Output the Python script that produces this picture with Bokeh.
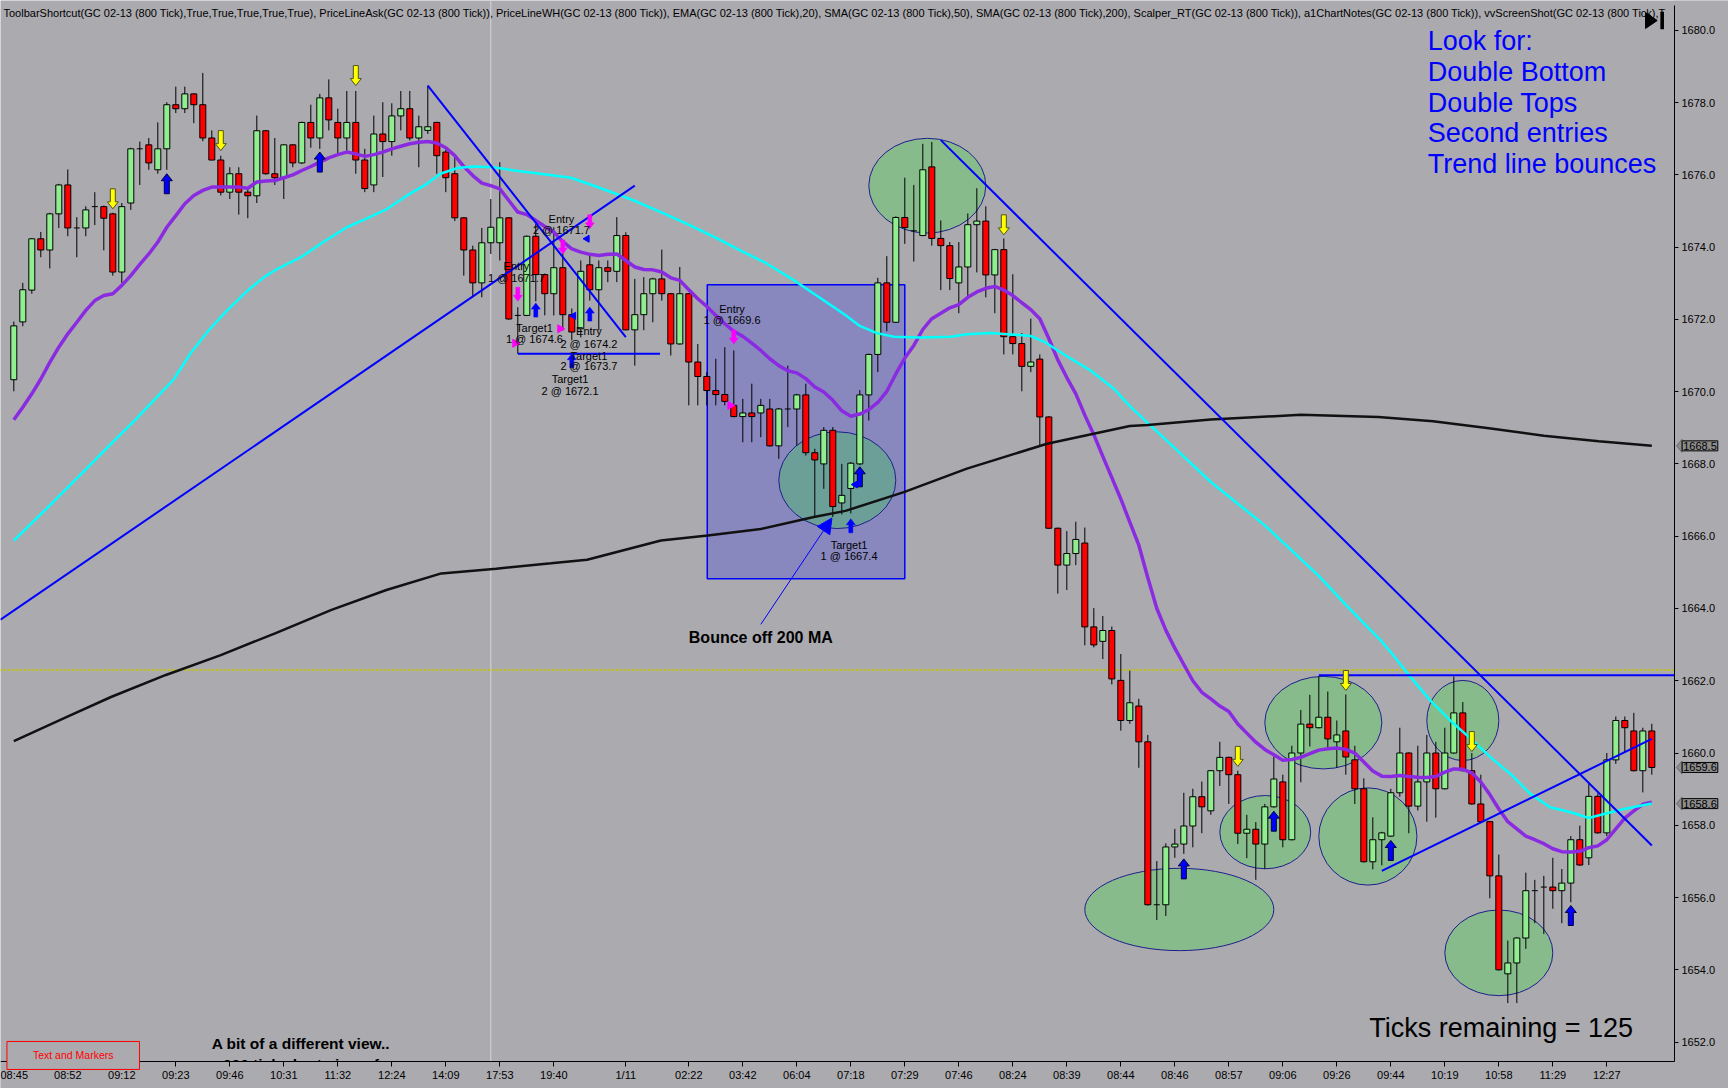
import numpy as np
from bokeh.plotting import figure
from bokeh.models import Range1d, FixedTicker, Label, Arrow, NormalHead, PolyAnnotation
from bokeh.core.properties import value
from bokeh.embed import file_html
from bokeh.resources import INLINE

FONT = "Liberation Sans"
BG = "#ABAAAF"

# ---- GC 02-13 (800 Tick) candles ----
opens = [1670.33, 1671.93, 1672.81, 1674.23, 1673.92, 1674.92, 1675.72, 1674.53, 1674.53, 1675.12,
         1675.12, 1674.92, 1673.31, 1675.22, 1676.72, 1676.83, 1676.14, 1676.72, 1677.94, 1677.83,
         1678.24, 1677.94, 1677.02, 1676.41, 1675.52, 1676.03, 1675.52, 1675.42, 1677.22, 1676.03,
         1675.92, 1676.83, 1676.33, 1677.45, 1677.02, 1678.13, 1677.45, 1677.02, 1677.45, 1676.41,
         1675.72, 1677.13, 1676.92, 1677.63, 1677.83, 1677.02, 1677.23, 1677.45, 1676.63, 1676.03,
         1674.81, 1673.92, 1673.01, 1674.12, 1674.12, 1674.81, 1672.11, 1672.11, 1674.30, 1673.24,
         1672.71, 1673.43, 1672.13, 1671.74, 1673.51, 1672.82, 1673.43, 1673.33, 1674.32, 1671.71,
         1672.13, 1672.71, 1673.12, 1672.71, 1671.32, 1672.71, 1670.82, 1670.42, 1670.03, 1669.92,
         1669.62, 1669.31, 1669.41, 1669.41, 1669.52, 1668.50, 1669.52, 1669.52, 1669.91, 1668.31,
         1668.00, 1668.93, 1666.92, 1667.32, 1668.00, 1669.91, 1671.03, 1673.01, 1671.92, 1674.82,
         1674.45, 1674.32, 1676.22, 1674.24, 1674.04, 1673.01, 1673.45, 1674.62, 1674.72, 1673.23,
         1673.93, 1671.52, 1671.33, 1670.70, 1670.90, 1669.30, 1666.22, 1665.20, 1665.52, 1665.81,
         1663.49, 1663.09, 1663.39, 1662.01, 1660.90, 1661.30, 1660.31, 1655.80, 1655.80, 1657.40,
         1657.48, 1657.98, 1658.79, 1658.40, 1659.51, 1659.88, 1659.40, 1657.78, 1657.89, 1657.48,
         1658.51, 1659.20, 1657.60, 1660.00, 1660.80, 1660.70, 1660.99, 1660.31, 1660.61, 1659.81,
         1659.01, 1656.99, 1657.60, 1657.70, 1658.90, 1660.00, 1658.53, 1659.20, 1660.00, 1659.01,
         1660.00, 1661.11, 1659.51, 1658.59, 1658.10, 1656.60, 1653.89, 1654.19, 1654.88, 1656.19,
         1656.29, 1656.29, 1656.19, 1656.40, 1657.60, 1657.10, 1658.80, 1657.79, 1659.81, 1660.90,
         1660.61, 1659.51, 1660.61]
highs = [1671.94, 1673.01, 1674.25, 1674.42, 1674.95, 1675.75, 1676.15, 1674.83, 1675.13, 1675.52,
         1675.15, 1674.95, 1675.22, 1676.75, 1676.92, 1677.02, 1677.45, 1678.01, 1678.44, 1678.44,
         1678.26, 1678.82, 1677.23, 1676.53, 1676.21, 1676.21, 1675.66, 1677.64, 1677.24, 1677.02,
         1676.85, 1676.85, 1677.47, 1677.94, 1678.24, 1678.64, 1677.83, 1678.32, 1678.32, 1676.72,
         1677.64, 1678.01, 1677.98, 1678.32, 1678.32, 1677.64, 1678.47, 1677.47, 1676.75, 1676.53,
         1674.83, 1674.04, 1674.53, 1675.33, 1676.35, 1674.83, 1672.34, 1674.32, 1674.64, 1673.27,
         1674.55, 1674.00, 1672.30, 1673.63, 1673.80, 1673.63, 1673.63, 1674.83, 1674.41, 1673.12,
         1673.17, 1673.15, 1673.93, 1672.73, 1673.45, 1672.73, 1671.32, 1670.54, 1670.91, 1671.23,
         1671.14, 1669.80, 1670.22, 1669.80, 1669.80, 1669.55, 1670.72, 1669.94, 1670.22, 1668.42,
         1669.02, 1669.02, 1668.00, 1668.05, 1670.04, 1671.05, 1673.15, 1673.75, 1674.85, 1675.92,
         1675.72, 1676.86, 1676.91, 1674.74, 1674.14, 1674.14, 1674.93, 1675.63, 1675.13, 1673.95,
         1674.24, 1673.25, 1671.62, 1672.02, 1671.03, 1669.32, 1666.24, 1666.14, 1666.40, 1666.24,
         1664.01, 1663.79, 1663.50, 1662.74, 1662.28, 1661.50, 1660.50, 1657.01, 1657.50, 1657.90,
         1658.90, 1659.01, 1659.21, 1659.53, 1660.31, 1659.90, 1659.51, 1658.29, 1658.09, 1658.59,
         1659.90, 1659.40, 1660.20, 1661.19, 1661.61, 1662.12, 1661.70, 1660.90, 1661.62, 1660.20,
         1659.30, 1658.22, 1657.82, 1659.01, 1660.70, 1660.02, 1660.20, 1660.50, 1660.31, 1660.70,
         1662.12, 1661.41, 1660.00, 1659.40, 1658.12, 1657.19, 1654.81, 1654.90, 1656.69, 1656.49,
         1656.60, 1657.10, 1656.79, 1657.70, 1657.99, 1659.19, 1658.88, 1660.00, 1661.01, 1661.01,
         1661.11, 1660.70, 1660.81]
lows = [1670.01, 1671.81, 1672.71, 1673.72, 1673.41, 1674.53, 1674.30, 1673.72, 1674.30, 1674.61,
        1673.91, 1673.21, 1673.01, 1675.03, 1675.72, 1676.14, 1676.03, 1676.14, 1677.71, 1677.71,
        1677.43, 1676.93, 1676.40, 1675.43, 1675.33, 1674.90, 1674.80, 1675.22, 1676.00, 1675.72,
        1675.33, 1676.21, 1676.30, 1676.75, 1676.72, 1677.23, 1676.56, 1676.67, 1676.03, 1675.52,
        1675.52, 1675.94, 1676.53, 1677.23, 1676.95, 1676.21, 1677.13, 1676.03, 1675.52, 1674.72,
        1673.21, 1672.61, 1672.61, 1673.81, 1673.63, 1671.99, 1671.05, 1672.09, 1672.50, 1672.11,
        1672.11, 1671.69, 1671.42, 1671.50, 1672.52, 1671.70, 1673.03, 1673.03, 1671.70, 1670.72,
        1671.70, 1671.92, 1672.52, 1671.00, 1671.30, 1669.62, 1669.62, 1669.62, 1669.62, 1669.62,
        1669.29, 1668.60, 1668.60, 1668.74, 1668.48, 1668.14, 1669.02, 1668.51, 1668.23, 1666.53,
        1667.31, 1666.53, 1666.60, 1666.63, 1667.97, 1669.20, 1670.54, 1671.67, 1671.90, 1674.09,
        1673.60, 1674.30, 1674.04, 1672.81, 1672.81, 1672.17, 1672.61, 1673.30, 1672.61, 1672.17,
        1671.03, 1671.03, 1670.01, 1670.54, 1668.51, 1666.20, 1664.41, 1664.51, 1665.20, 1662.98,
        1662.92, 1662.60, 1661.90, 1660.62, 1660.81, 1659.59, 1655.78, 1655.38, 1655.49, 1657.10,
        1657.21, 1657.39, 1657.78, 1658.29, 1659.09, 1658.59, 1657.48, 1657.09, 1656.49, 1656.79,
        1658.49, 1657.39, 1657.58, 1659.19, 1660.18, 1660.68, 1660.11, 1659.59, 1659.40, 1658.59,
        1656.97, 1656.78, 1656.89, 1657.68, 1658.79, 1657.78, 1658.41, 1658.10, 1658.21, 1658.99,
        1659.98, 1659.49, 1658.57, 1658.08, 1655.98, 1653.98, 1653.08, 1653.08, 1654.58, 1655.29,
        1654.99, 1655.69, 1655.29, 1655.87, 1656.88, 1656.90, 1657.77, 1657.70, 1659.70, 1660.00,
        1659.49, 1658.91, 1659.40]
closes = [1671.82, 1672.82, 1674.23, 1673.92, 1674.92, 1675.72, 1674.53, 1674.53, 1675.03, 1675.12,
          1674.80, 1673.31, 1675.12, 1676.72, 1676.72, 1676.33, 1676.72, 1677.94, 1677.83, 1678.24,
          1677.94, 1677.02, 1676.41, 1675.52, 1676.03, 1675.52, 1675.42, 1677.22, 1676.03, 1675.92,
          1676.83, 1676.33, 1677.45, 1677.02, 1678.13, 1677.52, 1677.02, 1677.45, 1676.41, 1675.62,
          1677.13, 1676.92, 1677.63, 1677.83, 1677.02, 1677.33, 1677.33, 1676.53, 1675.92, 1674.81,
          1673.92, 1673.01, 1674.12, 1674.55, 1674.81, 1672.01, 1672.11, 1674.30, 1673.24, 1672.71,
          1673.43, 1672.13, 1671.65, 1673.33, 1672.82, 1673.43, 1673.33, 1674.32, 1671.71, 1672.13,
          1672.71, 1673.12, 1672.71, 1671.32, 1672.71, 1670.82, 1670.42, 1670.03, 1669.92, 1669.73,
          1669.31, 1669.41, 1669.31, 1669.62, 1668.50, 1669.52, 1669.52, 1669.91, 1668.31, 1668.11,
          1668.93, 1666.82, 1667.13, 1668.02, 1669.91, 1671.03, 1673.01, 1671.92, 1674.82, 1674.54,
          1674.45, 1676.14, 1674.24, 1674.04, 1673.13, 1673.45, 1674.62, 1674.72, 1673.23, 1673.93,
          1671.52, 1671.33, 1670.70, 1670.82, 1669.30, 1666.22, 1665.20, 1665.52, 1665.91, 1663.49,
          1662.99, 1663.39, 1662.05, 1660.90, 1661.39, 1660.31, 1655.80, 1655.80, 1657.40, 1657.48,
          1657.98, 1658.79, 1658.51, 1659.51, 1659.88, 1659.40, 1657.78, 1657.89, 1657.48, 1658.51,
          1659.28, 1657.60, 1660.00, 1660.80, 1660.70, 1660.99, 1660.39, 1660.50, 1659.89, 1659.01,
          1656.99, 1657.60, 1657.79, 1658.90, 1660.00, 1658.53, 1659.20, 1660.00, 1659.01, 1660.00,
          1661.11, 1659.51, 1658.59, 1658.10, 1656.60, 1654.00, 1654.19, 1654.88, 1656.19, 1656.19,
          1656.29, 1656.19, 1656.40, 1657.60, 1656.90, 1658.80, 1657.79, 1659.81, 1660.90, 1660.70,
          1659.51, 1660.61, 1659.60]

# ---- time axis ----
time_tick_bars = [0, 6, 12, 18, 24, 30, 36, 42, 48, 54, 60, 68, 75, 81, 87, 93, 99, 105, 111,
                  117, 123, 129, 135, 141, 147, 153, 159, 165, 171, 177]
time_tick_labels = ["08:45", "08:52", "09:12", "09:23", "09:46", "10:31", "11:32", "12:24", "14:09",
                    "17:53", "19:40", "1/11", "02:22", "03:42", "06:04", "07:18", "07:29", "07:46",
                    "08:24", "08:39", "08:44", "08:46", "08:57", "09:06", "09:26", "09:44", "10:19",
                    "10:58", "11:29", "12:27"]
price_ticks = [1652, 1654, 1656, 1658, 1660, 1662, 1664, 1666, 1668, 1670, 1672, 1674, 1676, 1678, 1680]
session_break_bar = 53

# ---- indicators ----
ema20 = [1669.22, 1669.57, 1669.94, 1670.35, 1670.81, 1671.23, 1671.60, 1671.92, 1672.25, 1672.52,
         1672.66, 1672.71, 1672.94, 1673.21, 1673.52, 1673.81, 1674.14, 1674.55, 1674.87, 1675.20,
         1675.43, 1675.57, 1675.66, 1675.66, 1675.66, 1675.66, 1675.63, 1675.80, 1675.83, 1675.84,
         1675.92, 1676.00, 1676.12, 1676.23, 1676.35, 1676.47, 1676.56, 1676.63, 1676.58, 1676.51,
         1676.56, 1676.63, 1676.72, 1676.79, 1676.86, 1676.90, 1676.92, 1676.88, 1676.75, 1676.53,
         1676.23, 1675.98, 1675.77, 1675.70, 1675.61, 1675.29, 1674.97, 1674.90, 1674.74, 1674.57,
         1674.41, 1674.15, 1673.95, 1673.86, 1673.80, 1673.77, 1673.80, 1673.81, 1673.63, 1673.45,
         1673.38, 1673.37, 1673.31, 1673.15, 1673.08, 1672.82, 1672.57, 1672.36, 1672.11, 1671.88,
         1671.67, 1671.53, 1671.34, 1671.14, 1670.91, 1670.72, 1670.58, 1670.52, 1670.36, 1670.13,
         1669.99, 1669.76, 1669.47, 1669.32, 1669.38, 1669.50, 1669.70, 1670.01, 1670.49, 1670.93,
         1671.28, 1671.72, 1672.02, 1672.17, 1672.32, 1672.41, 1672.61, 1672.76, 1672.86, 1672.91,
         1672.81, 1672.66, 1672.46, 1672.27, 1672.02, 1671.47, 1670.88, 1670.39, 1669.94, 1669.35,
         1668.81, 1668.21, 1667.62, 1667.03, 1666.39, 1665.75, 1664.85, 1664.00, 1663.40, 1662.90,
         1662.45, 1662.00, 1661.68, 1661.50, 1661.30, 1661.15, 1660.80, 1660.55, 1660.30, 1660.10,
         1659.95, 1659.80, 1659.82, 1659.88, 1659.98, 1660.08, 1660.12, 1660.14, 1660.10, 1660.00,
         1659.75, 1659.50, 1659.36, 1659.35, 1659.38, 1659.35, 1659.33, 1659.32, 1659.35, 1659.47,
         1659.56, 1659.55, 1659.45, 1659.20, 1658.85, 1658.45, 1658.10, 1657.90, 1657.70, 1657.60,
         1657.49, 1657.35, 1657.27, 1657.26, 1657.28, 1657.38, 1657.43, 1657.60, 1657.90, 1658.20,
         1658.40, 1658.58, 1658.64]

sma50_x = [0, 4, 8, 11, 13.5, 15.9, 17.8, 19.6, 21.5, 23.7, 26, 27.8, 29.3, 31.9, 34.4, 37, 39.3,
           41.5, 43.7, 45.9, 47.4, 49.3, 51.1, 53.3, 55.6, 57.8, 60, 61.9, 65, 68.9, 71.9, 74.8,
           77.8, 80.7, 83.7, 86.7, 88.9, 91.1, 92.5, 94, 95.9, 97.8, 100.7, 104.1, 105.9, 108.5,
           110.4, 113, 114.5, 117, 119.6, 122.2, 124, 127, 130, 133, 136, 139, 142, 145, 148,
           151.9, 153, 155.2, 157.4, 159.6, 161.9, 164.1, 166.3, 168.5, 170.7, 173, 175, 176.7,
           178.9, 182]
sma50_y = [1665.88, 1666.85, 1667.85, 1668.60, 1669.22, 1669.85, 1670.35, 1671.05, 1671.65, 1672.25,
           1672.80, 1673.17, 1673.40, 1673.72, 1674.14, 1674.55, 1674.80, 1675.06, 1675.43, 1675.75,
           1676.03, 1676.19, 1676.23, 1676.21, 1676.12, 1676.05, 1675.98, 1675.92, 1675.65, 1675.29,
           1674.97, 1674.64, 1674.28, 1673.91, 1673.54, 1673.08, 1672.71, 1672.34, 1672.10, 1671.82,
           1671.62, 1671.52, 1671.50, 1671.52, 1671.59, 1671.62, 1671.59, 1671.54, 1671.38, 1670.98,
           1670.59, 1670.09, 1669.60, 1668.90, 1668.20, 1667.50, 1666.90, 1666.30, 1665.60, 1664.90,
           1664.10, 1663.11, 1662.79, 1662.10, 1661.45, 1660.90, 1660.39, 1659.88, 1659.42, 1658.87,
           1658.50, 1658.36, 1658.20, 1658.31, 1658.45, 1658.60]

sma200_x = [0, 5.9, 10.8, 16.9, 23, 29.1, 35.3, 41.4, 47.5, 53.6, 59.7, 63.7, 71.9, 77.1, 83, 88.9,
            92.4, 98.9, 105.9, 114.8, 124, 126, 133, 143, 151.6, 157.7, 163.9, 170, 176.1, 182]
sma200_y = [1660.33, 1661.00, 1661.55, 1662.16, 1662.71, 1663.32, 1663.96, 1664.51, 1664.97,
            1665.10, 1665.25, 1665.35, 1665.88, 1666.02, 1666.20, 1666.53, 1666.70, 1667.22,
            1667.87, 1668.56, 1669.05, 1669.08, 1669.23, 1669.36, 1669.30, 1669.18, 1668.99,
            1668.78, 1668.63, 1668.50]

# ---- chart notes: drawing objects ----
trend_lines = [((-1.48, 1663.69), (69.0, 1675.70)),
               ((46.0, 1678.47), (68.0, 1671.51)),
               ((56.0, 1671.05), (71.8, 1671.05)),
               ((103.0, 1676.96), (182.0, 1657.44)),
               ((152.0, 1656.74), (182.0, 1660.39)),
               ((145.0, 1662.15), (184.52, 1662.15))]
ask_line_price = 1662.3
box_left, box_right, box_bottom, box_top = 77.05, 99.0, 1664.82, 1672.96

ell_x = [101.5, 91.5, 129.5, 139.05, 145.5, 150.45, 161.0, 165.0]
ell_y = [1675.70, 1667.55, 1655.67, 1657.81, 1660.84, 1657.69, 1660.90, 1654.47]
ell_w = [13.0, 13.0, 21.0, 10.1, 13.0, 10.9, 8.0, 12.0]
ell_h = [2.62, 2.68, 2.28, 2.03, 2.56, 2.69, 2.22, 2.37]

# Scalper signal arrows: bar, tip price
sell_arrow_bars = [11, 23, 38, 110, 136, 148, 162]
sell_arrow_tips = [1675.06, 1676.67, 1678.47, 1674.34, 1659.63, 1661.73, 1660.04]
buy_arrow_bars = [17, 34, 94, 130, 140, 153, 173]
buy_arrow_tips = [1676.03, 1676.63, 1667.92, 1657.07, 1658.39, 1657.58, 1655.78]
exec_buy_bars = [58, 62, 64, 93]
exec_buy_tips = [1672.45, 1671.05, 1672.34, 1666.48]
exec_sell_bars = [56, 61, 64, 80]
exec_sell_tips = [1672.50, 1673.81, 1674.51, 1671.32]
fill_mark_x = [55.7, 60.7, 79.6]
fill_mark_y = [1671.34, 1671.74, 1669.62]
stop_mark_x = [63.7, 62.2, 93.5]
stop_mark_y = [1674.23, 1672.10, 1667.43]

trade_text = ["Entry", "2 @ 1671.7", "Entry", "1 @ 1671.7", "Target1", "1 @ 1674.6",
              "Entry", "2 @ 1674.2", "Target1", "2 @ 1673.7", "Target1", "2 @ 1672.1",
              "Entry", "1 @ 1669.6", "Target1", "1 @ 1667.4"]
trade_x = [60.85, 60.85, 55.85, 55.85, 57.85, 57.85, 63.9, 63.9, 63.9, 63.9, 61.8, 61.8,
           79.8, 79.8, 92.8, 92.8]
trade_y = [1674.78, 1674.46, 1673.49, 1673.14, 1671.76, 1671.45, 1671.67, 1671.32, 1671.0,
           1670.70, 1670.34, 1670.03, 1672.29, 1671.99, 1665.76, 1665.45]

look_for = ["Look for:", "Double Bottom", "Double Tops", "Second entries", "Trend line bounces"]
look_for_y = [1679.71, 1678.855, 1678.00, 1677.145, 1676.29]

header = ("ToolbarShortcut(GC 02-13 (800 Tick),True,True,True,True,True), PriceLineAsk(GC 02-13 (800 Tick)), "
          "PriceLineWH(GC 02-13 (800 Tick)), EMA(GC 02-13 (800 Tick),20), SMA(GC 02-13 (800 Tick),50), "
          "SMA(GC 02-13 (800 Tick),200), Scalper_RT(GC 02-13 (800 Tick)), a1ChartNotes(GC 02-13 (800 Tick)), "
          "vvScreenShot(GC 02-13 (800 Tick),T")

# ---- geometry: price panel is [X0, X1] x [Y0, Y1]; the canvas extends past it for the axes ----
W, H = 1728, 1088
PANEL_W, PANEL_H = 1674, 1056
PANEL_TOP = 5
X0, X1 = -1.478, 184.52
Y0, Y1 = 1651.463, 1680.686
px_x = (X1 - X0) / PANEL_W
px_y = (Y1 - Y0) / PANEL_H
XA, XB = X0, X0 + W * px_x
YB = Y1 + PANEL_TOP * px_y
YA = YB - H * px_y

p = figure(width=W, height=H, output_backend="svg", toolbar_location=None,
           x_range=Range1d(XA, XB), y_range=Range1d(YA, YB), y_axis_location="right",
           min_border_left=0, min_border_right=0, min_border_top=0, min_border_bottom=0)
p.background_fill_color = BG
p.border_fill_color = BG
p.outline_line_color = None
p.grid.visible = False

for ax in (p.xaxis[0], p.yaxis[0]):
    ax.axis_line_color = "black"
    ax.major_tick_line_color = "black"
    ax.minor_tick_line_color = None
    ax.major_tick_in = 0
    ax.major_label_text_font = FONT
    ax.major_label_text_font_size = "11px"
    ax.major_label_text_color = "black"

p.xaxis.fixed_location = Y0
p.xaxis.bounds = (X0, X1)
p.xaxis.ticker = FixedTicker(ticks=time_tick_bars)
p.xaxis.major_label_overrides = {b: t for b, t in zip(time_tick_bars, time_tick_labels)}
p.xaxis.major_tick_out = 5
p.xaxis.major_label_standoff = 2
p.yaxis.fixed_location = X1
p.yaxis.bounds = (Y0, Y1)
p.yaxis.ticker = FixedTicker(ticks=price_ticks)
p.yaxis.major_label_overrides = {v: f"{v:.1f}" for v in price_ticks}
p.yaxis.major_tick_out = 4
p.yaxis.major_label_standoff = 3

# chart-note shapes (behind price bars)
p.quad(left=[box_left], right=[box_right], bottom=[box_bottom], top=[box_top],
       fill_color="#0000FF", fill_alpha=0.2, line_color="#0000FF", line_width=1.5)
p.ellipse(x=ell_x, y=ell_y, width=ell_w, height=ell_h, fill_color="#00FF00", fill_alpha=0.2,
          line_color="#1E1E8C", line_width=1)

p.segment(x0=[session_break_bar], y0=[Y0], x1=[session_break_bar], y1=[YB],
          line_color="#D6D6D8", line_width=1)
p.line([X0, X1], [ask_line_price, ask_line_price], line_color="#C4C400", line_width=2, line_dash="2 2")

# candles
bars = np.arange(len(opens))
o = np.array(opens); c = np.array(closes)
p.segment(x0=bars, y0=highs, x1=bars, y1=lows, line_color="black", line_width=1)
body_top = np.maximum(o, c); body_bot = np.minimum(o, c)
is_doji = np.abs(c - o) < 0.03
colors = np.where(c > o, "#90EE90", "#FF0000")
nd = ~is_doji
p.vbar(x=bars[nd], top=body_top[nd], bottom=body_bot[nd], width=0.667,
       fill_color=list(colors[nd]), line_color="black", line_width=1)
p.segment(x0=bars[is_doji] - 0.333, y0=c[is_doji], x1=bars[is_doji] + 0.333, y1=c[is_doji],
          line_color="black", line_width=1)

# moving averages
p.line(bars, ema20, line_color="#8A2BE2", line_width=3.5)
p.line(sma50_x, sma50_y, line_color="#00FFFF", line_width=2.5)
p.line(sma200_x, sma200_y, line_color="#111111", line_width=2.5)

# trend lines
p.segment(x0=[a[0] for a, b in trend_lines], y0=[a[1] for a, b in trend_lines],
          x1=[b[0] for a, b in trend_lines], y1=[b[1] for a, b in trend_lines],
          line_color="#0000FF", line_width=2)


def arrow_shapes(xs, tips, direction, length_px, shaft_px, head_w_px, head_h_px):
    out_x, out_y = [], []
    for xc, tip in zip(xs, tips):
        base = tip - direction * length_px * px_y
        neck = tip - direction * head_h_px * px_y
        sw = shaft_px * px_x / 2
        hw = head_w_px * px_x / 2
        out_x.append([xc - sw, xc + sw, xc + sw, xc + hw, xc, xc - hw, xc - sw])
        out_y.append([base, base, neck, neck, tip, neck, neck])
    return out_x, out_y


ax_, ay_ = arrow_shapes(sell_arrow_bars, sell_arrow_tips, -1, 20, 5, 11, 7)
p.patches(ax_, ay_, fill_color="#FFFF00", line_color="#505020", line_width=1)
ax_, ay_ = arrow_shapes(buy_arrow_bars, buy_arrow_tips, 1, 20, 5, 11, 7)
p.patches(ax_, ay_, fill_color="#0000FF", line_color="#000040", line_width=1)
ax_, ay_ = arrow_shapes(exec_buy_bars, exec_buy_tips, 1, 14, 4, 9, 6)
p.patches(ax_, ay_, fill_color="#0000FF", line_color="#0000FF", line_width=0.5)
ax_, ay_ = arrow_shapes(exec_sell_bars, exec_sell_tips, -1, 14, 4, 9, 6)
p.patches(ax_, ay_, fill_color="#FF00FF", line_color="#FF00FF", line_width=0.5)
p.scatter(fill_mark_x, fill_mark_y, marker="triangle", angle=-np.pi / 2, size=8,
          fill_color="#FF00FF", line_color="#FF00FF")
p.scatter(stop_mark_x, stop_mark_y, marker="triangle", angle=np.pi / 2, size=7,
          fill_color="#0000FF", line_color="#0000FF")

# texts
p.text(x=trade_x, y=trade_y, text=trade_text, text_font=value(FONT), text_font_size="11px",
       text_align="center", text_baseline="middle", text_color="black")
p.text(x=[83.0], y=[1663.20], text=["Bounce off 200 MA"], text_font=value(FONT),
       text_font_size="16px", text_font_style="bold", text_align="center", text_baseline="middle")
p.add_layout(Arrow(x_start=83.0, y_start=1663.56, x_end=90.9, y_end=1666.5, line_color="#0000FF",
                   line_width=1, end=NormalHead(size=15, fill_color="#0000FF", line_color="#0000FF")))
p.text(x=[31.9, 31.9], y=[1651.95, 1651.37], text=["A bit of a different view..", "200 tick chart view of"],
       text_font=value(FONT), text_font_size="15.5px", text_font_style="bold",
       text_align="center", text_baseline="middle")
p.text(x=[150.6], y=[1652.38], text=["Ticks remaining = 125"], text_font=value(FONT),
       text_font_size="27px", text_align="left", text_baseline="middle")
p.text(x=[157.1] * len(look_for), y=look_for_y, text=look_for, text_font=value(FONT),
       text_font_size="27px", text_color="#0000FF", text_align="left", text_baseline="alphabetic")
p.text(x=[X0 + 3 * px_x], y=[Y1 - 7.5 * px_y], text=[header], text_font=value(FONT),
       text_font_size="11px", text_align="left", text_baseline="middle")

# end-of-chart icon
p.patch([181.3, 182.6, 181.3], [1680.49, 1680.27, 1680.05], fill_color="black", line_color="black")
p.quad(left=[182.95], right=[183.35], bottom=[1680.03], top=[1680.51], fill_color="black", line_color=None)

# the price panel ends at the axes: mask whatever runs past them
p.quad(left=[X1, XA], right=[XB, X1], bottom=[YA, YA], top=[YB, Y0], fill_color=BG, line_color=None)

# text-and-markers button (sits across the time axis)
p.add_layout(Label(x=6.6, y=1651.63, text="Text and Markers", text_font=FONT, text_font_size="10.5px",
                   text_color="#FF0000", text_align="center", text_baseline="middle",
                   border_line_color="#FF0000", border_line_width=1, background_fill_color=BG,
                   padding=dict(left=26, right=26, top=8, bottom=8)))

# price markers on the price axis
marker_vals = [sma200_y[-1], closes[-1], sma50_y[-1]]
for v in marker_vals:
    h = 6.5 * px_y
    p.add_layout(PolyAnnotation(xs=[184.74, 185.35, 185.35, 184.74], ys=[v, v + h, v - h, v],
                                fill_color="#8C8C8C", fill_alpha=1, line_color="black", line_width=1))
    p.add_layout(Label(x=187.35, y=v, text=f"{v:.1f}", text_font=FONT, text_font_size="11px",
                       text_align="center", text_baseline="middle", text_color="black",
                       background_fill_color="#8C8C8C", border_line_color="black", padding=1))

open("out.html", "w").write(file_html(p, INLINE))
